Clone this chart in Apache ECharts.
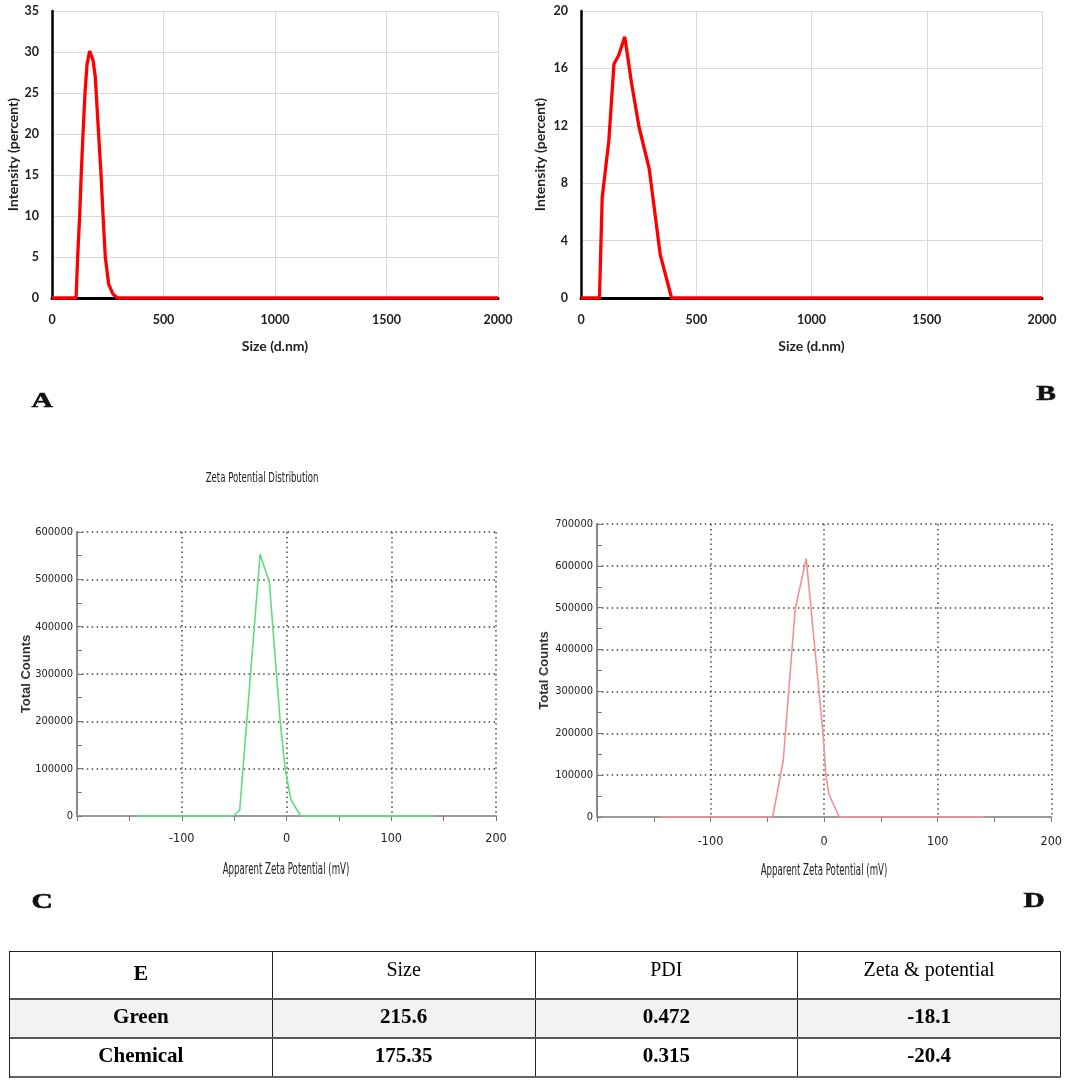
<!DOCTYPE html>
<html>
<head>
<meta charset="utf-8">
<script src="https://cdn.jsdelivr.net/npm/echarts@6/dist/echarts.min.js"></script>
<style>
  html, body { margin: 0; padding: 0; background: #fff; }
  #wrap { position: relative; width: 1065px; height: 1081px; overflow: hidden; }
  #chart { position: absolute; left: 0; top: 0; width: 1065px; height: 1081px; }
  #tbl { position: absolute; left: 9px; top: 950.5px; width: 1052px; box-sizing: border-box;
         border-top: 1.5px solid #222; border-left: 1.5px solid #222;
         font-family: 'Liberation Serif', 'Times New Roman', serif; font-size: 20px; color: #000; }
  #tbl .row { display: flex; box-sizing: border-box; }
  #tbl .cell { flex: 1 1 0; box-sizing: border-box; border-right: 1.5px solid #222;
               display: flex; align-items: center; justify-content: center; padding-bottom: 4px; }
  #tbl .hd { height: 48px; border-bottom: 2px solid #555; }
  #tbl .hd .cell { padding-bottom: 10px; }
  #tbl .hd .e { font-weight: bold; font-size: 22px; padding-bottom: 4px; }
  #tbl .r1 { height: 39.5px; background: #f2f2f2; border-bottom: 2px solid #555; font-weight: bold; font-size: 21px; }
  #tbl .r2 { height: 39px; border-bottom: 2px solid #666; font-weight: bold; font-size: 21px; }
</style>
</head>
<body>
<div id="wrap">
  <div id="chart"></div>
  <div id="tbl"></div>
</div>
<script>
// size distribution (A, B): size in d.nm, intensity in percent
const sizeA = [0, 108, 115, 124, 131, 139, 148, 157, 169, 184, 194, 209, 220, 229, 239, 254, 273, 294, 2000];
const intensityA = [0, 0, 5, 10, 15, 20, 25, 28.5, 30.1, 29, 27, 20, 15, 10, 5, 1.7, 0.5, 0, 0];
const sizeB = [0, 80, 92, 121, 143, 163, 190, 219, 252, 296, 344, 393, 2000];
const intensityB = [0, 0, 7, 11, 16.3, 16.9, 18.2, 15, 11.9, 9, 3, 0, 0];

// zeta potential distribution (C, D): mV vs total counts
const zetaC = [-143, -51, -44.7, -25.2, -16.4, -6, -1.3, 4.1, 13.5, 142.6];
const countsC = [0, 0, 12000, 553000, 494000, 199000, 100000, 35000, 0, 0];
const zetaD = [-143.5, -45.3, -36, -25.5, -15.8, -1, 1.5, 4.1, 13.3, 141.1];
const countsD = [0, 0, 135000, 496000, 618000, 200000, 103000, 55000, 0, 0];

// summary table (E)
const tableHeader = ["E", "Size", "PDI", "Zeta & potential"];
const tableRows = [
  ["Green", "215.6", "0.472", "-18.1"],
  ["Chemical", "175.35", "0.315", "-20.4"],
];

const zip = (xs, ys) => xs.map((x, i) => [x, ys[i]]);
const plain = (v) => String(v);
const CAL = "Lato, 'Open Sans', sans-serif";
const NARROW = "'Liberation Sans Narrow', 'DejaVu Sans Condensed', 'Liberation Sans', sans-serif";
const SERIF = "'Liberation Serif', 'Times New Roman', serif";

function sizeX(gi) {
  return {
    type: "value", gridIndex: gi, min: 0, max: 2000, interval: 500,
    axisLine: { onZero: false, lineStyle: { color: "#000", width: 3 } },
    axisTick: { show: false },
    axisLabel: { margin: 15, color: "#222", fontFamily: CAL, fontWeight: "bold", fontSize: 12.5, formatter: plain },
    splitLine: { show: true, lineStyle: { color: "#d9d9d9", width: 1 } },
    name: "Size (d.nm)", nameLocation: "middle", nameGap: 41, nameMoveOverlap: false,
    nameTextStyle: { color: "#222", fontFamily: CAL, fontWeight: "bold", fontSize: 14 },
  };
}
function intY(gi, max, step, gap) {
  return {
    type: "value", gridIndex: gi, min: 0, max: max, interval: step,
    axisLine: { show: true, onZero: false, lineStyle: { color: "#000", width: 2.5 } },
    axisTick: { show: false },
    axisLabel: { margin: 13, color: "#222", fontFamily: CAL, fontWeight: "bold", fontSize: 12.5, formatter: plain },
    splitLine: { show: true, lineStyle: { color: "#d9d9d9", width: 1 } },
    name: "Intensity (percent)", nameLocation: "middle", nameGap: gap, nameMoveOverlap: false,
    nameTextStyle: { color: "#222", fontFamily: CAL, fontWeight: "bold", fontSize: 14 },
  };
}
const dotted = { color: "#444", width: 1.5, type: [1.5, 3.4] };
function zetaX(gi, margin) {
  return {
    type: "value", gridIndex: gi, min: -200, max: 200, interval: 100,
    axisLine: { onZero: false, lineStyle: { color: "#9a9a9a", width: 2 } },
    axisTick: { show: true, length: 5, lineStyle: { color: "#777" } },
    minorTick: { show: true, splitNumber: 2, length: 5, lineStyle: { color: "#777" } },
    axisLabel: { showMinLabel: false, margin: margin, color: "#222", fontFamily: NARROW, fontSize: 12.5, formatter: plain },
    splitLine: { show: true, lineStyle: dotted },
  };
}
function countY(gi, max, gap) {
  return {
    type: "value", gridIndex: gi, min: 0, max: max, interval: 100000,
    axisLine: { show: true, onZero: false, lineStyle: { color: "#8a8a8a", width: 2 } },
    axisTick: { show: true, inside: true, length: 5, lineStyle: { color: "#777" } },
    minorTick: { show: true, splitNumber: 2, length: 5, lineStyle: { color: "#777" } },
    axisLabel: { margin: 4, color: "#222", fontFamily: NARROW, fontSize: 11, formatter: plain },
    splitLine: { show: true, lineStyle: dotted },
    name: "Total Counts", nameLocation: "middle", nameGap: gap, nameMoveOverlap: false,
    nameTextStyle: { color: "#333", fontFamily: "'Liberation Sans', Arial, sans-serif", fontWeight: "bold", fontSize: 13 },
  };
}
function line(gi, data, color, width) {
  return {
    type: "line", xAxisIndex: gi, yAxisIndex: gi, data: data, showSymbol: false, clip: false,
    lineStyle: { color: color, width: width }, itemStyle: { color: color }, z: 3,
  };
}
function letter(t, x, y) {
  return { type: "text", x: x, y: y, scaleX: 1.4, z: 10,
    style: { text: t, font: "bold 21px " + SERIF, fill: "#111", stroke: "#111", lineWidth: 0.6,
             align: "center", verticalAlign: "middle" } };
}
function narrowText(t, x, y, size, sx) {
  return { type: "text", x: x, y: y, scaleX: sx, z: 10,
    style: { text: t, font: size + "px " + NARROW, fill: "#222", align: "center", verticalAlign: "middle" } };
}

const chart = echarts.init(document.getElementById("chart"), null, { renderer: "canvas" });
chart.setOption({
  animation: false,
  backgroundColor: "#fff",
  grid: [
    { left: 52, top: 11, width: 446, height: 287 },
    { left: 581, top: 11, width: 461, height: 287 },
    { left: 77, top: 532, width: 419, height: 284 },
    { left: 597, top: 524, width: 456, height: 293 },
  ],
  xAxis: [sizeX(0), sizeX(1), zetaX(2, 16), zetaX(3, 18)],
  yAxis: [intY(0, 35, 5, 32), intY(1, 20, 4, 34), countY(2, 600000, 44), countY(3, 700000, 46)],
  series: [
    line(0, zip(sizeA, intensityA), "#ff0000", 3.3),
    line(1, zip(sizeB, intensityB), "#ff0000", 3.3),
    line(2, zip(zetaC, countsC), "#5fdd80", 1.6),
    line(3, zip(zetaD, countsD), "#f29292", 1.6),
  ],
  graphic: [
    narrowText("Zeta Potential Distribution", 262, 478, 14, 0.68),
    narrowText("Apparent Zeta Potential (mV)", 286, 870, 15, 0.64),
    narrowText("Apparent Zeta Potential (mV)", 824, 871, 15, 0.64),
    letter("A", 42, 402),
    letter("B", 1046, 395),
    letter("C", 42, 903),
    letter("D", 1034, 902),
  ],
});

// table E
const esc = (s) => s.replace(/&/g, "&amp;");
document.getElementById("tbl").innerHTML =
  `<div class="row hd">${tableHeader.map((h, i) => `<div class="cell${i === 0 ? " e" : ""}">${esc(h)}</div>`).join("")}</div>` +
  tableRows.map((r, k) => `<div class="row r${k + 1}">${r.map((c) => `<div class="cell">${esc(c)}</div>`).join("")}</div>`).join("");
</script>
</body>
</html>
